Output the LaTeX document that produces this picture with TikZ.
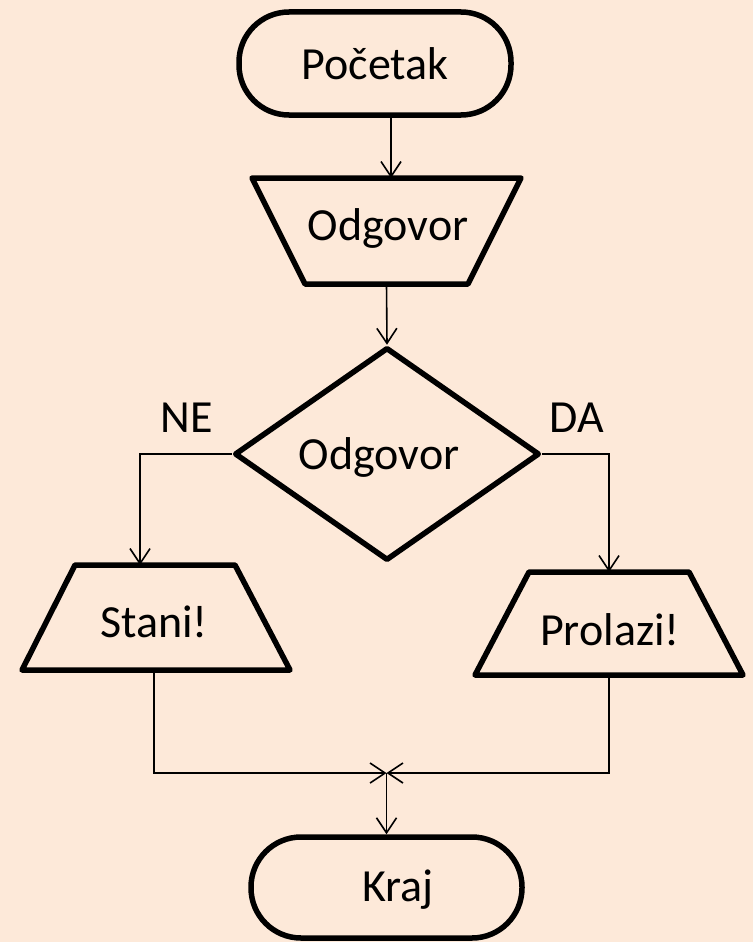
\documentclass[tikz,border=0pt]{standalone}
\usepackage{fontspec}
\setmainfont{Carlito}
\usetikzlibrary{shapes.geometric,arrows.meta}
\definecolor{bgpeach}{RGB}{253,233,217}
\begin{document}
\begin{tikzpicture}[x=1pt,y=-1pt,
  every node/.style={font=\fontsize{46}{55}\selectfont, text=black},
  shapebox/.style={draw=black, line width=5.5pt, fill=bgpeach, inner sep=0pt, line join=round},
  term/.style={shapebox, rectangle, rounded corners=50pt},
  dec/.style={shapebox, diamond},
  conn/.style={draw=black, line width=1.6pt, -{Straight Barb[length=15pt,width=20pt,line width=1.6pt]}},
  lbl/.style={inner sep=0pt}
]
\fill[bgpeach] (0,0) rectangle (753,942);
\useasboundingbox (0,0) rectangle (753,942);

% terminals and decision
\node[term, minimum width=272pt, minimum height=103pt] (start) at (375,63.5) {Početak};
\node[dec, minimum width=305pt, minimum height=213pt] (cond) at (387,454) {};
\node[term, minimum width=271pt, minimum height=101pt] (kraj) at (386.5,887.5) {};

% trapezoids
\draw[shapebox] (252,178) -- (521,178) -- (468,284) -- (305,284) -- cycle;
\draw[shapebox] (75,565) -- (235,565) -- (290,670) -- (22,670) -- cycle;
\draw[shapebox] (529,572) -- (689,572) -- (743,675) -- (475,675) -- cycle;

% anchor points on trapezoids
\coordinate (inpN) at (391,178);
\coordinate (inpS) at (386.5,284);
\coordinate (staniN) at (140,565);
\coordinate (staniS) at (154,670);
\coordinate (prolN) at (609,572);
\coordinate (prolS) at (609,675);
\coordinate (join) at (386.5,773);

% texts
\node (inptxt) at (388,228) {Odgovor};
\node (condtxt) at (379,457) {Odgovor};
\node (stanitxt) at (154,622) {Stani!};
\node (proltxt) at (610,630) {Prolazi!};
\node (krajtxt) at (398,890) {Kraj};
\node[lbl] (ne) at (187,418) {NE};
\node[lbl] (da) at (577,418) {DA};

% connectors
\draw[conn] (start.south -| inpN) -- (inpN);
\draw[conn] (inpS) -- (cond.north);
\draw[conn] (cond.west) -| (staniN);
\draw[conn] (cond.east) -| (prolN);
\draw[conn] (staniS) |- (join);
\draw[conn] (prolS) |- (join);
\draw[conn] (join) -- (kraj.north);
\end{tikzpicture}
\end{document}
